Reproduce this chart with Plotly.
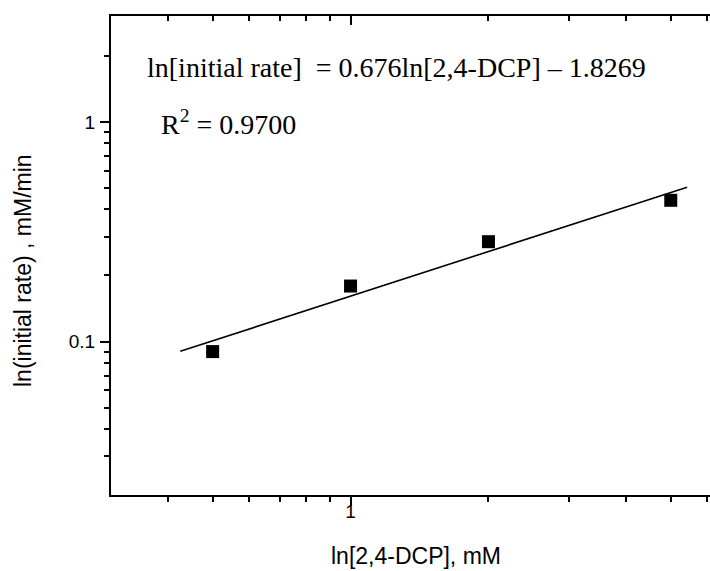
import numpy as np
import plotly.graph_objects as go

# Measured initial rates vs 2,4-DCP concentration
dcp_mM = [0.5, 1.0, 2.0, 5.0]
initial_rate = [0.090, 0.179, 0.285, 0.440]

# Regression: ln[initial rate] = 0.676 ln[2,4-DCP] - 1.8269
slope = 0.676
intercept = -1.8269
r_squared = 0.9700
fit_x_ends = [0.425, 5.43]

x_major = [1]
x_minor = [0.4, 0.5, 0.6, 0.7, 0.8, 0.9, 2, 3, 4, 5, 6]
y_major = [0.1, 1]
y_minor = [0.03, 0.04, 0.05, 0.06, 0.07, 0.08, 0.09,
           0.2, 0.3, 0.4, 0.5, 0.6, 0.7, 0.8, 0.9, 2]

W, H = 710, 571
L, R, T, B = 111, 0, 16, 76
pw, ph = W - L - R, H - T - B


def px(xp):
    return (xp - L) / pw


def py(yp):
    return (H - B - yp) / ph


fit_x = np.geomspace(fit_x_ends[0], fit_x_ends[1], 50)
fit_y = np.exp(slope * np.log(fit_x) + intercept)

fig = go.Figure()
fig.add_trace(go.Scatter(
    x=fit_x, y=fit_y, mode="lines",
    line=dict(color="black", width=1.6), showlegend=False, hoverinfo="skip"))
fig.add_trace(go.Scatter(
    x=dcp_mM, y=initial_rate, mode="markers",
    marker=dict(symbol="square", size=13, color="black"), showlegend=False))
# carrier for the top axis
fig.add_trace(go.Scatter(
    x=[1], y=[0.1], xaxis="x2", mode="markers",
    marker=dict(opacity=0), showlegend=False, hoverinfo="skip"))

xrange = [np.log10(0.3), np.log10(6.09)]
yrange = [np.log10(0.02), np.log10(3.04)]
tickfont = dict(family="Liberation Sans, Arial", size=19, color="black")

fig.update_layout(
    width=W, height=H,
    margin=dict(l=L, r=R, t=T, b=B),
    paper_bgcolor="white", plot_bgcolor="white",
    xaxis=dict(
        type="log", range=xrange, showgrid=False, zeroline=False,
        showline=True, linecolor="black", linewidth=2,
        ticks="outside", ticklen=9, tickwidth=1.5, tickcolor="black",
        tickvals=x_major, ticktext=["1"], tickfont=tickfont,
        ticklabelstandoff=-11,
        minor=dict(tickmode="array", tickvals=x_minor, ticks="outside",
                   ticklen=5, tickwidth=1.5, tickcolor="black", showgrid=False),
    ),
    xaxis2=dict(
        type="log", range=xrange, overlaying="x", side="top", anchor="y",
        showgrid=False, zeroline=False,
        showline=True, linecolor="black", linewidth=2,
        ticks="inside", ticklen=9, tickwidth=1.5, tickcolor="black",
        tickvals=x_major, showticklabels=False,
        minor=dict(tickmode="array", tickvals=x_minor, ticks="inside",
                   ticklen=5, tickwidth=1.5, tickcolor="black", showgrid=False),
    ),
    yaxis=dict(
        type="log", range=yrange, showgrid=False, zeroline=False,
        showline=True, linecolor="black", linewidth=2,
        ticks="outside", ticklen=9, tickwidth=1.5, tickcolor="black",
        tickvals=y_major, ticktext=["0.1", "1"], tickfont=tickfont,
        ticklabelstandoff=1,
        minor=dict(tickmode="array", tickvals=y_minor, ticks="outside",
                   ticklen=5, tickwidth=1.5, tickcolor="black", showgrid=False),
    ),
    annotations=[
        dict(text="ln[initial rate]  = %.3fln[2,4-DCP] \u2013 %.4f" % (slope, -intercept),
             xref="paper", yref="paper", x=px(145), y=py(67),
             xanchor="left", yanchor="middle", showarrow=False,
             font=dict(family="Liberation Serif, Times New Roman", size=28, color="black")),
        dict(text="R<sup>2</sup> = %.4f" % r_squared,
             xref="paper", yref="paper", x=px(159), y=py(122),
             xanchor="left", yanchor="middle", showarrow=False,
             font=dict(family="Liberation Serif, Times New Roman", size=28, color="black")),
        dict(text="ln[2,4-DCP], mM",
             xref="paper", yref="paper", x=px(416), y=py(556),
             xanchor="center", yanchor="middle", showarrow=False,
             font=dict(family="Liberation Sans, Arial", size=23, color="black")),
        dict(text="ln(initial rate) , mM/min", textangle=-90,
             xref="paper", yref="paper", x=px(23), y=py(271),
             xanchor="center", yanchor="middle", showarrow=False,
             font=dict(family="Liberation Sans, Arial", size=23, color="black")),
    ],
)

fig.write_html("out.html")
